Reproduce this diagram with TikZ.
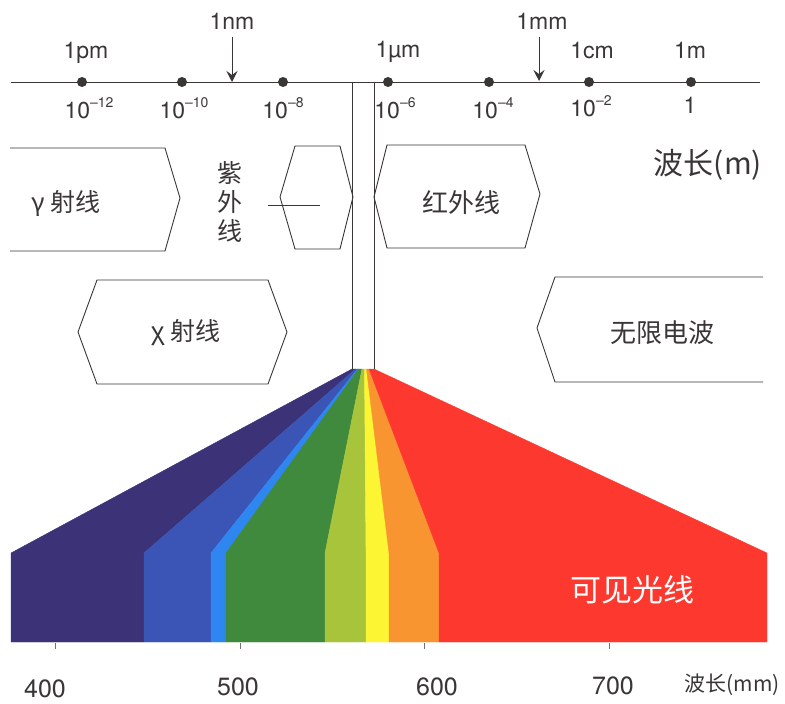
\documentclass[tikz,border=0pt]{standalone}
\usepackage{fontspec}
\setmainfont{TeX Gyre Heros}
\newfontfamily\cjk{Noto Sans CJK SC}
\usetikzlibrary{arrows.meta}
\definecolor{ink}{HTML}{3A3636}
\definecolor{cNavy}{HTML}{3B3278}
\definecolor{cBlue}{HTML}{3A55B5}
\definecolor{cLBlue}{HTML}{2F86F0}
\definecolor{cGreen}{HTML}{3F8A3C}
\definecolor{cYG}{HTML}{A8C43A}
\definecolor{cYellow}{HTML}{FBF534}
\definecolor{cOrange}{HTML}{F99530}
\definecolor{cRed}{HTML}{FD392F}
\newcommand{\ex}[1]{\raisebox{0.5em}{\fontsize{14}{14}\selectfont #1}}
\begin{document}
\begin{tikzpicture}[x=1pt,y=-1pt,
  line/.style={draw=ink,line width=0.9pt},
  dotm/.style={circle,fill=ink,inner sep=0pt,minimum size=10pt},
  tick/.style={font=\fontsize{23}{23}\selectfont,text=ink,inner sep=0pt},
  pow/.style={font=\fontsize{23}{23}\selectfont,text=ink,inner sep=0pt},
  zh/.style={font=\cjk\fontsize{25}{29}\selectfont,text=ink,inner sep=0pt,align=center},
  num/.style={font=\fontsize{25}{25}\selectfont,text=ink,inner sep=0pt},
  arr/.style={draw=ink,line width=0.9pt,-{Stealth[length=11pt,width=11pt,inset=4pt]}},
  band/.style={line width=0.4pt}
]
\useasboundingbox (0,0) rectangle (785,704);

% ---------- spectrum fan ----------
\def\yb{642}\def\yk{553}\def\ya{369}
\foreach \xl/\xr/\al/\ar/\c in {11/144/352/355.5/cNavy,144/211/355.5/357.5/cBlue,211/226/357.5/358.5/cLBlue,226/325/358.5/362/cGreen,325/366/362/364.5/cYG,366/389/364.5/366.5/cYellow,389/439/366.5/369/cOrange,439/767/369/374/cRed}
  \fill[\c,draw=\c,band] (\xl,\yb) -- (\xl,\yk) -- (\al,\ya) -- (\ar,\ya) -- (\xr,\yk) -- (\xr,\yb) -- cycle;

\node[font=\cjk\fontsize{31}{31}\selectfont,text=white,inner sep=0pt] (vis) at (632,590) {可见光线};

% ---------- wavelength axis ----------
\coordinate (axL) at (11,82);
\coordinate (axR) at (760,82);
\draw[line] (axL) -- (axR);

\foreach \n/\x in {d12/82,d10/182,d8/283,d6/388,d4/489,d2/589,d0/691}
  \node[dotm] (\n) at (\x,82) {};

\node[tick] (pm) at (86,53) {1pm};
\node[tick] (um) at (398,52) {1µm};
\node[tick] (cm) at (592,51) {1cm};
\node[tick] (m) at (690,50) {1m};
\node[tick] (nm) at (232,21) {1nm};
\node[tick] (mm) at (542,21) {1mm};
\coordinate (nmA) at (232,82);
\coordinate (mmA) at (539,81);
\draw[arr] ([yshift=-8pt]nm.south) -- (nmA);
\draw[arr] ([xshift=-3pt,yshift=-8pt]mm.south) -- (mmA);

\node[pow] (p12) at (89,108) {10\ex{–12}};
\node[pow] (p10) at (184,108) {10\ex{–10}};
\node[pow] (p8) at (283,108) {10\ex{–8}};
\node[pow] (p6) at (395,108) {10\ex{–6}};
\node[pow] (p4) at (493,108) {10\ex{–4}};
\node[pow] (p2) at (591,106) {10\ex{–2}};
\node[pow] (p0) at (690,105) {1};

% ---------- slit lines ----------
\coordinate (sL1) at (352,83); \coordinate (sL2) at (352,369);
\coordinate (sR1) at (374,83); \coordinate (sR2) at (374,369);
\draw[line] (sL1) -- (sL2);
\draw[line] (sR1) -- (sR2);

% ---------- band boxes ----------
\draw[line] (10,148) -- (165,148) -- (180,198) -- (165,251) -- (10,251);
\draw[line] (295,146) -- (340,146) -- (353,197) -- (340,249) -- (295,249) -- (280,197) -- cycle;
\draw[line] (387,145) -- (525,145) -- (540,194) -- (525,248) -- (387,248) -- (374,197) -- cycle;
\draw[line] (97,280) -- (268,280) -- (287,332) -- (268,384) -- (97,384) -- (78,332) -- cycle;
\draw[line] (763,277) -- (555,277) -- (537,328) -- (555,382) -- (763,382);

\node[zh] (gamma) at (66,203) {γ 射线};
\node[zh] (uv) at (230,202) {紫\\外\\线};
\coordinate (uvA) at (268,205);
\coordinate (uvB) at (320,205);
\draw[draw=ink,line width=0.6pt] (uvA) -- (uvB);
\node[font=\cjk\fontsize{26}{26}\selectfont,text=ink,inner sep=0pt] (ir) at (461,203) {红外线};
\node[zh] (xray) at (186,333) {χ 射线};
\node[font=\cjk\fontsize{26}{26}\selectfont,text=ink,inner sep=0pt] (radio) at (662,333) {无限电波};
\node[font=\cjk\fontsize{30}{30}\selectfont,text=ink,inner sep=0pt] (wlm) at (708,165) {波长(m)};

% ---------- bottom scale ----------
\foreach \n/\x in {t4/55,t5/240,t6/424,t7/609}{
  \coordinate (\n a) at (\x,643);
  \coordinate (\n b) at (\x,649);
  \draw[draw=ink!70,line width=0.6pt] (\n a) -- (\n b);
}
\node[num] (n400) at (45,689) {400};
\node[num] (n500) at (238,687) {500};
\node[num] (n600) at (437,687) {600};
\node[num] (n700) at (613,686) {700};
\node[font=\cjk\fontsize{21}{21}\selectfont,text=ink,inner sep=0pt] (wlmm) at (732,685) {波长(mm)};
\end{tikzpicture}
\end{document}
